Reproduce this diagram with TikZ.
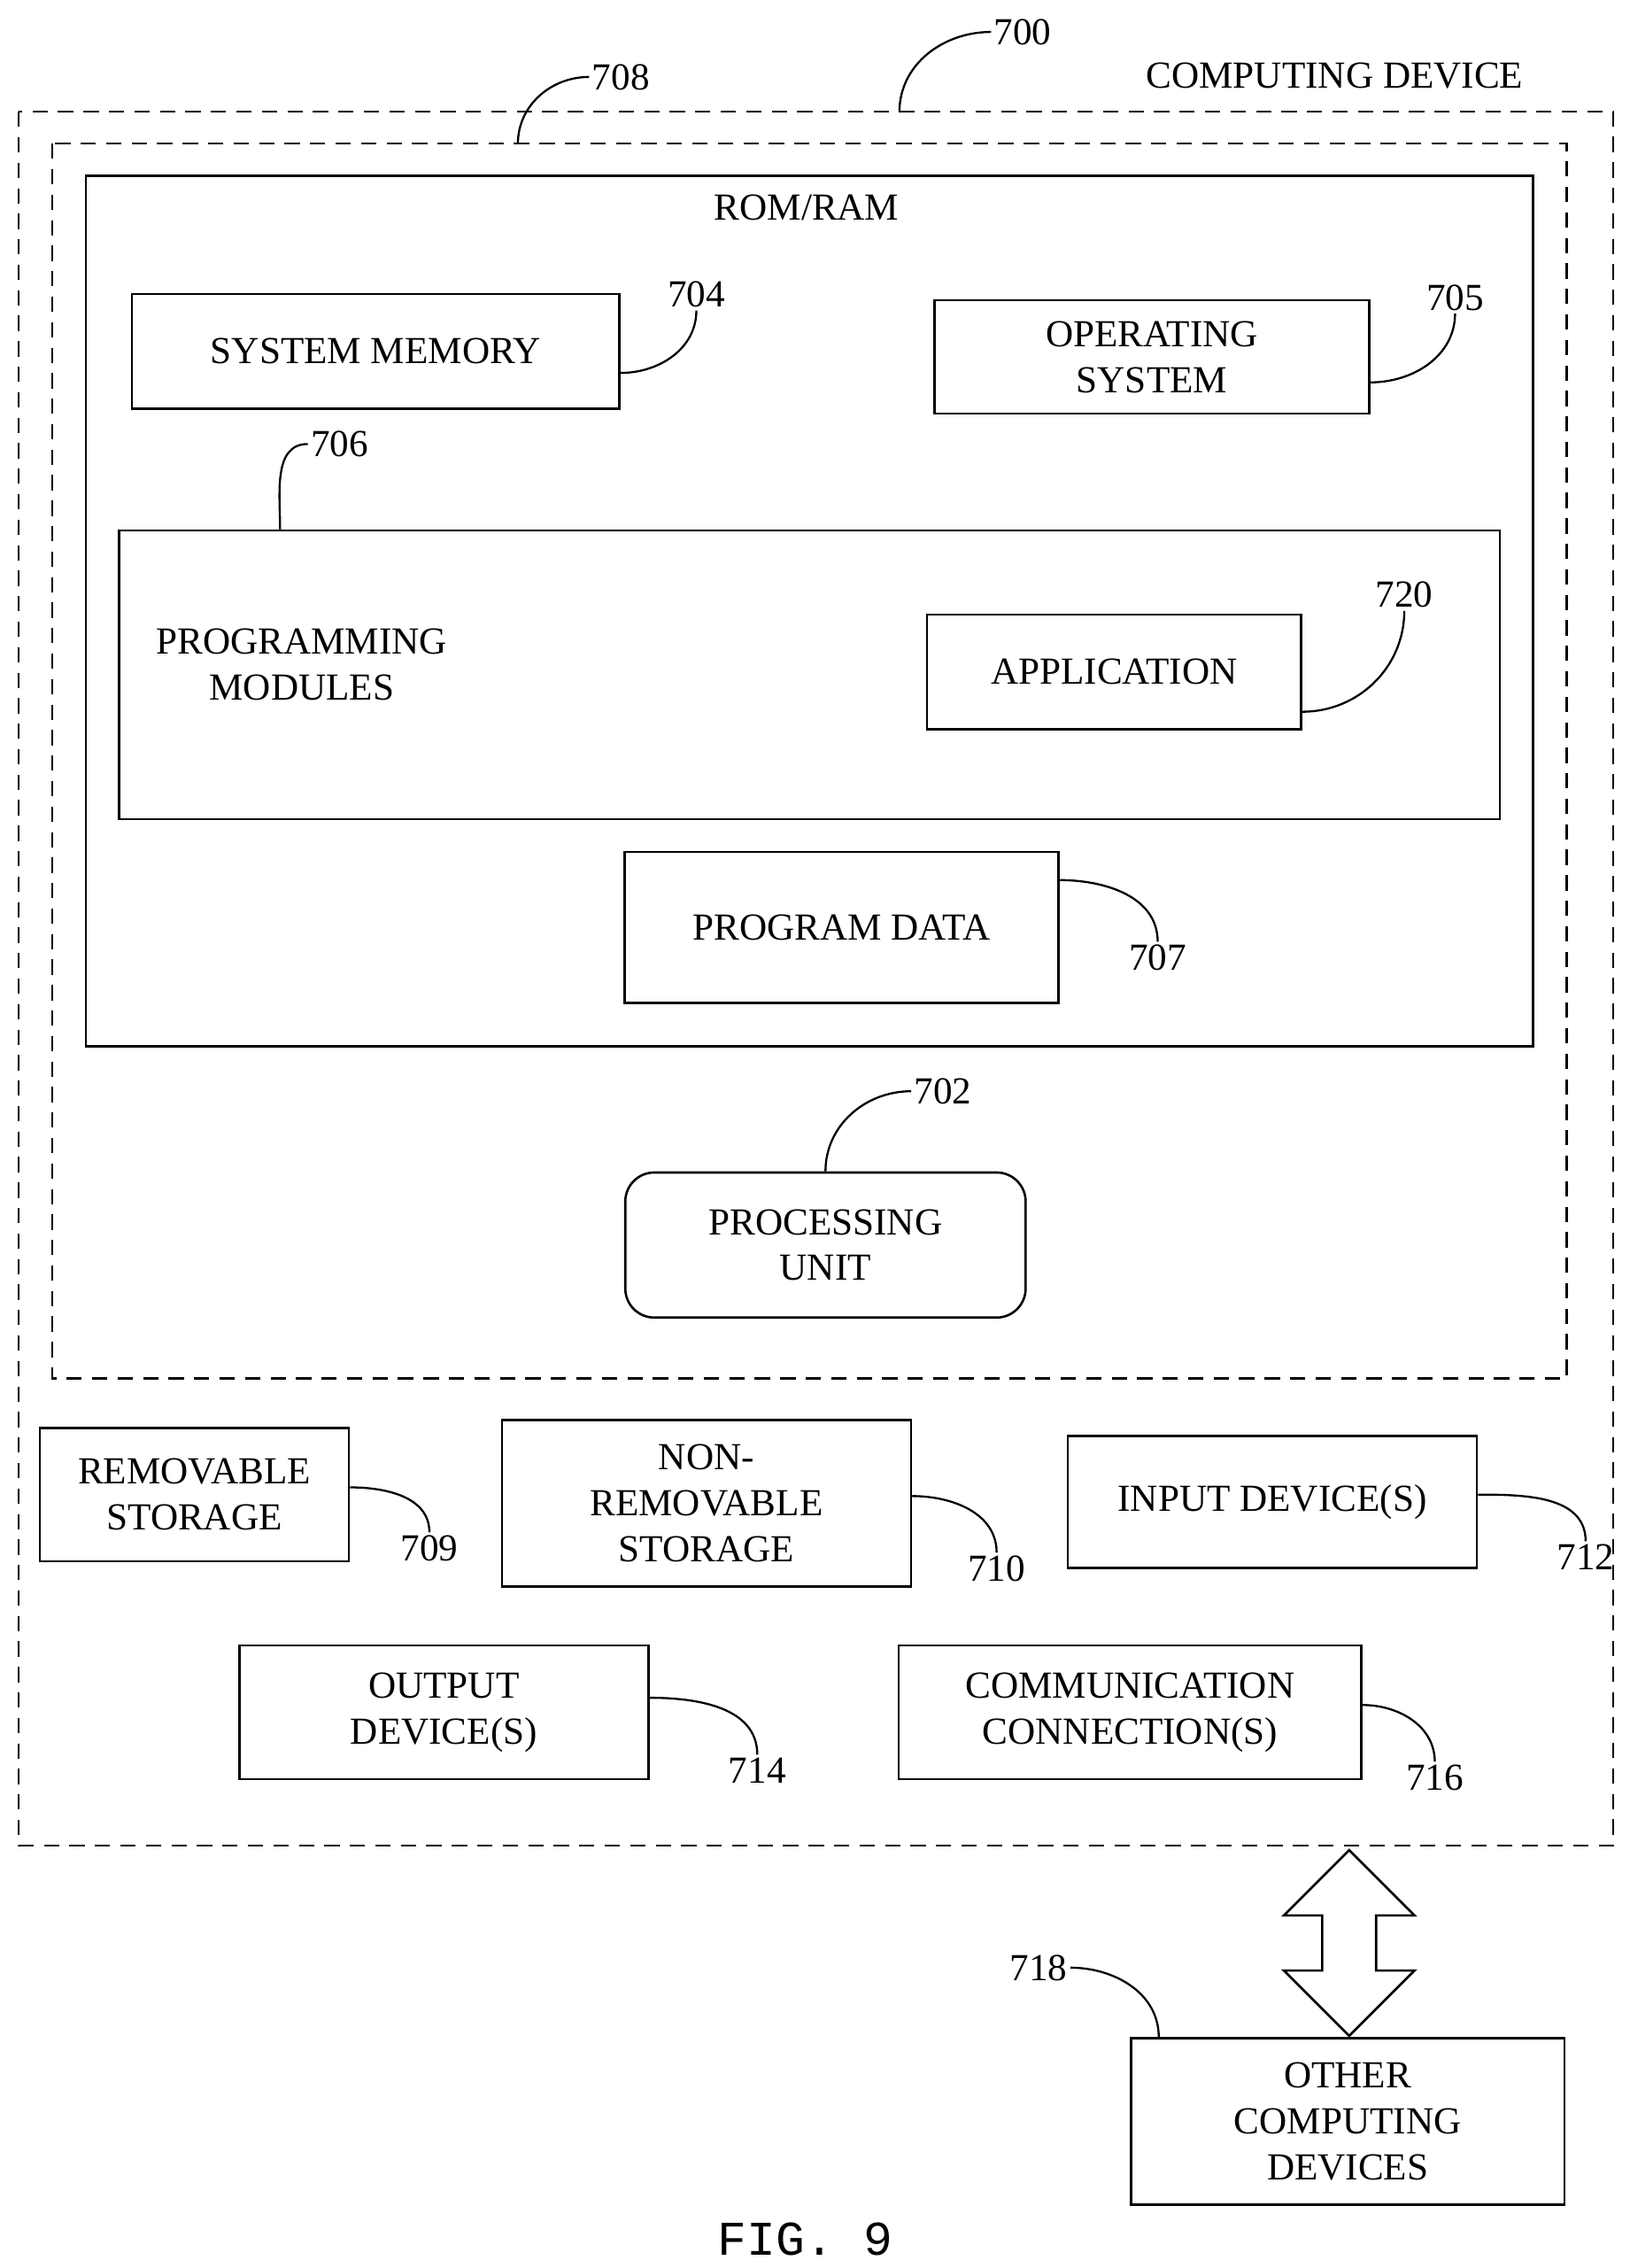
\documentclass[tikz,border=0pt]{standalone}
\usepackage{fontspec}
\setmainfont{Liberation Serif}
\setmonofont{Liberation Mono}
\usetikzlibrary{shapes.arrows}
\begin{document}
\begin{tikzpicture}[
            x=0.02cm, y=-0.02cm,
            every node/.style={font=\fontsize{15}{18}\selectfont},
            dashbox/.style={
                draw=black,
                dash pattern=on 6pt off 4pt,
                line width=0.8pt
            },
            box/.style={
                rectangle,
                draw=black,
                line width=0.9pt,
                align=center,
                inner sep=0pt
            },
            num/.style={
                inner sep=1pt
            },
            lead/.style={line width=0.8pt}
        ]
        \useasboundingbox (0,0) rectangle (1123,1563);

        % Dashed frames
        \draw[dashbox] (13,77) rectangle (1112,1272);
        \draw[dashbox] (36,99) rectangle (1080,950);
        \coordinate (outtop) at (620,77);
        \coordinate (intop) at (357,99);

        % ROM/RAM block
        \node[box, minimum width=19.96cm, minimum height=12cm] (rom) at (558,421) {};
        \node (romt) at (556,143) {ROM/RAM};
        \node[box, minimum width=6.72cm, minimum height=1.58cm] (sysmem) at (259,242) {SYSTEM MEMORY};
        \node[box, minimum width=6cm, minimum height=1.56cm] (os) at (794,246) {OPERATING\\SYSTEM};
        \node[box, minimum width=19.04cm, minimum height=3.98cm] (prog) at (558,465) {};
        \node[align=center] (progt) at (208,458) {PROGRAMMING\\MODULES};
        \node[box, minimum width=5.16cm, minimum height=1.58cm] (app) at (768,463) {APPLICATION};
        \node[box, minimum width=5.98cm, minimum height=2.08cm] (pdata) at (580,639) {PROGRAM DATA};

        % Processing unit
        \node[box, rounded corners=0.4cm, minimum width=5.52cm, minimum height=2cm] (cpu) at (569,858) {PROCESSING\\UNIT};

        % Storage and devices
        \node[box, minimum width=4.26cm, minimum height=1.84cm] (rem) at (134,1030) {REMOVABLE\\STORAGE};
        \node[box, minimum width=5.64cm, minimum height=2.3cm] (nonrem) at (487,1036) {NON-\\REMOVABLE\\STORAGE};
        \node[box, minimum width=5.64cm, minimum height=1.82cm] (input) at (877,1035) {INPUT DEVICE(S)};
        \node[box, minimum width=5.64cm, minimum height=1.84cm] (output) at (306,1180) {OUTPUT\\DEVICE(S)};
        \node[box, minimum width=6.38cm, minimum height=1.84cm] (comm) at (779,1180) {COMMUNICATION\\CONNECTION(S)};
        \node[box, minimum width=5.98cm, minimum height=2.3cm] (other) at (929,1462) {OTHER\\COMPUTING\\DEVICES};

        % Double arrow
        \node[draw, line width=0.9pt, double arrow, rotate=90, minimum height=2.56cm,
              minimum width=1.8cm, double arrow head extend=0.45cm, inner sep=0.3cm] (link) at (930,1339) {};

        % Numbers
        \node[num] (n700) at (705,22) {700};
        \node (cdev) at (920,52) {COMPUTING DEVICE};
        \node[num] (n708) at (428,53) {708};
        \node[num] (n704) at (480,203) {704};
        \node[num] (n705) at (1003,205) {705};
        \node[num] (n706) at (234,306) {706};
        \node[num] (n720) at (968,410) {720};
        \node[num] (n707) at (798,660) {707};
        \node[num] (n702) at (650,752) {702};
        \node[num] (n709) at (296,1067) {709};
        \node[num] (n710) at (687,1081) {710};
        \node[num] (n712) at (1093,1073) {712};
        \node[num] (n714) at (522,1220) {714};
        \node[num] (n716) at (989,1225) {716};
        \node[num] (n718) at (716,1356) {718};
        \node[font=\ttfamily\fontsize{19}{22}\selectfont] (fig) at (555,1543) {FIG. 9};

        % Leader lines
        \draw[lead] (outtop) to[out=90,in=180] (n700.west);
        \draw[lead] (intop) to[out=90,in=180] (n708.west);
        \draw[lead] ([yshift=-0.3cm]sysmem.east) to[out=0,in=-90] (n704.south);
        \draw[lead] ([yshift=-0.35cm]os.east) to[out=0,in=-90] (n705.south);
        \draw[lead] ([xshift=-7.3cm]prog.north) to[out=90,in=180] (n706.west);
        \draw[lead] ([yshift=-0.55cm]app.east) to[out=0,in=-90] (n720.south);
        \draw[lead] ([yshift=0.65cm]pdata.east) to[out=0,in=90] (n707.north);
        \draw[lead] (cpu.north) to[out=90,in=180] (n702.west);
        \draw[lead] ([yshift=0.1cm]rem.east) to[out=0,in=90] (n709.north);
        \draw[lead] ([yshift=0.1cm]nonrem.east) to[out=0,in=90] (n710.north);
        \draw[lead] ([yshift=0.1cm]input.east) to[out=0,in=90] (n712.north);
        \draw[lead] ([yshift=0.2cm]output.east) to[out=0,in=90] (n714.north);
        \draw[lead] ([yshift=0.1cm]comm.east) to[out=0,in=90] (n716.north);
        \draw[lead] ([xshift=0.4cm]other.north west) to[out=90,in=0] (n718.east);
\end{tikzpicture}
\end{document}
